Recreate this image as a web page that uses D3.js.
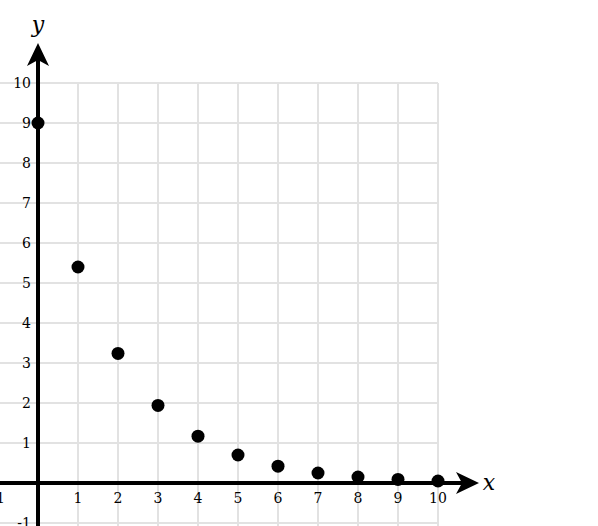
<!DOCTYPE html>
<html><head><meta charset="utf-8">
<script src="https://cdn.jsdelivr.net/npm/d3@7"></script>
<style>body{margin:0;background:#fff}svg{display:block}</style>
</head><body>
<script>
const xs = [0,1,2,3,4,5,6,7,8,9,10];
const ys = [9,5.4,3.24,1.94,1.17,0.7,0.42,0.25,0.15,0.09,0.05];
const xTicks = [-1,1,2,3,4,5,6,7,8,9,10];
const yTicks = [-1,1,2,3,4,5,6,7,8,9,10];
const gridX = [0,1,2,3,4,5,6,7,8,9,10];
const gridY = [-1,0,1,2,3,4,5,6,7,8,9,10];

const W=598,H=526;
const svg=d3.select("body").append("svg").attr("width",W).attr("height",H);
const x=d3.scaleLinear().domain([0,10]).range([38,438]);
const y=d3.scaleLinear().domain([0,10]).range([483,83]);
const font="'DejaVu Serif', 'Liberation Serif', serif";

const g=svg.append("g");
g.selectAll("line.gx").data(gridX).join("line").attr("class","gx")
 .attr("x1",d=>x(d)).attr("x2",d=>x(d)).attr("y1",y(10)).attr("y2",H)
 .attr("stroke","#e2e2e2").attr("stroke-width",2);
g.selectAll("line.gy").data(gridY).join("line").attr("class","gy")
 .attr("x1",0).attr("x2",x(10)).attr("y1",d=>y(d)).attr("y2",d=>y(d))
 .attr("stroke","#e2e2e2").attr("stroke-width",2);

// axes
svg.append("line").attr("x1",0).attr("x2",466).attr("y1",y(0)).attr("y2",y(0))
 .attr("stroke","#000").attr("stroke-width",4);
svg.append("line").attr("x1",x(0)).attr("x2",x(0)).attr("y1",H).attr("y2",56)
 .attr("stroke","#000").attr("stroke-width",4);
// arrowheads
const ax=x(0), ay=y(0);
svg.append("path").attr("d",`M${ax},43 L${ax+11},66 L${ax},60 L${ax-11},66 Z`).attr("fill","#000");
svg.append("path").attr("d",`M479,${ay} L456,${ay-11} L462,${ay} L456,${ay+11} Z`).attr("fill","#000");

svg.append("text").attr("x",ax).attr("y",32).attr("text-anchor","middle")
 .attr("font-family",font).attr("font-style","italic").attr("font-size",22).text("y");
svg.append("text").attr("x",489).attr("y",490).attr("text-anchor","middle")
 .attr("font-family",font).attr("font-style","italic").attr("font-size",22).text("x");

// tick labels
svg.selectAll("text.xt").data(xTicks).join("text").attr("class","xt")
 .attr("x",d=>x(d)).attr("y",503).attr("text-anchor","middle")
 .attr("font-family",font).attr("font-size",14).text(d=>d);
svg.selectAll("text.yt").data(yTicks).join("text").attr("class","yt")
 .attr("x",31).attr("y",d=>y(d)+5).attr("text-anchor","end")
 .attr("font-family",font).attr("font-size",14).text(d=>d);

// points
svg.selectAll("circle").data(xs).join("circle")
 .attr("cx",d=>x(d)).attr("cy",(d,i)=>y(ys[i])).attr("r",6.5).attr("fill","#000");
</script>
</body></html>
